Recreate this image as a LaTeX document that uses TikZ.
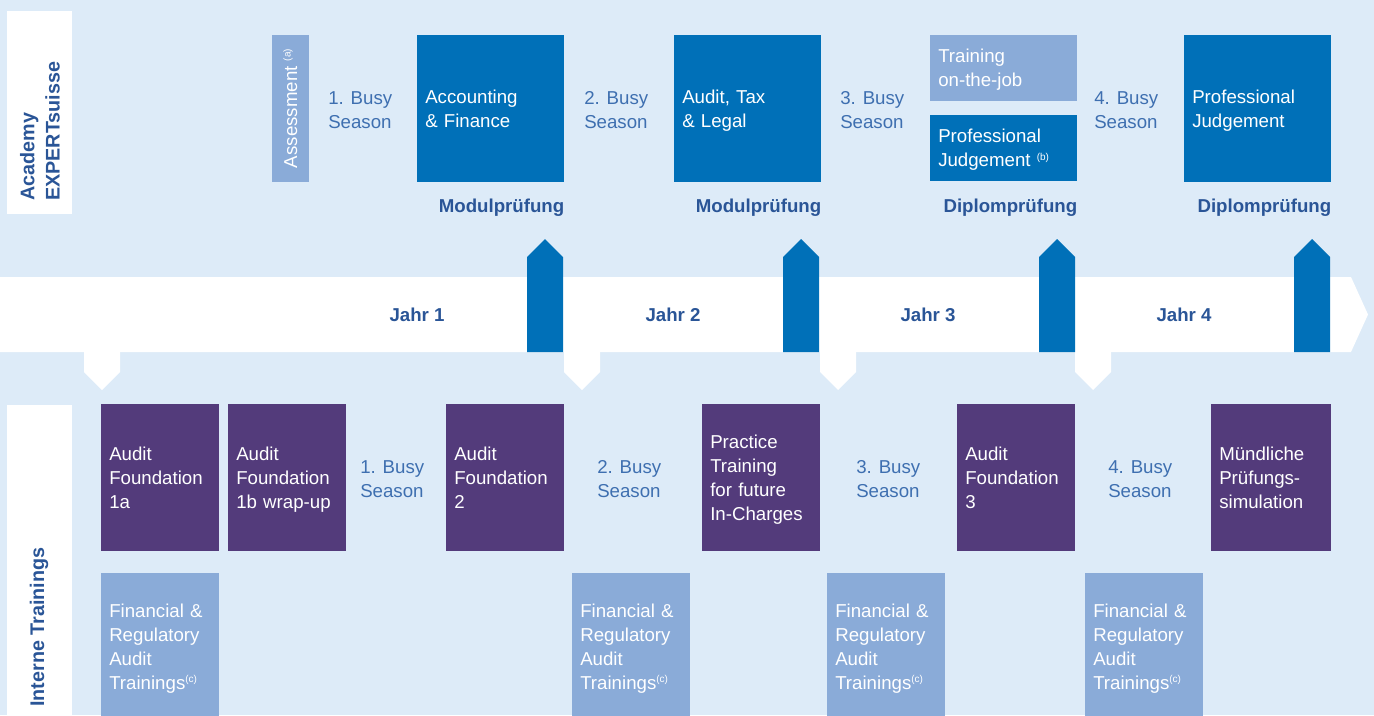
\documentclass[tikz,border=0pt]{standalone}
\usepackage{fontspec}
\setmainfont{Liberation Sans}
\usepackage{xcolor}
\usepackage{tikz}
\usetikzlibrary{positioning}

\definecolor{bgblue}{HTML}{DDEBF8}
\definecolor{akblue}{HTML}{0070B8}
\definecolor{lightbox}{HTML}{8AABD8}
\definecolor{itpurple}{HTML}{533B7B}
\definecolor{labelblue}{HTML}{2A5597}
\definecolor{seasonblue}{HTML}{3E6FB0}

\newcommand{\refmark}[1]{\raisebox{5pt}{\fontsize{7.5}{8}\selectfont(#1)}}

\begin{document}
\begin{tikzpicture}[
    x=0.75pt, y=-0.75pt,
    txt/.style={font=\fontsize{14}{18}\selectfont, align=left, inner sep=0pt,
        execute at begin node={\rule{0pt}{14pt}}, execute at end node={\rule[-4pt]{0pt}{4pt}}},
    box/.style={txt, anchor=north west, inner xsep=6pt, text=white, minimum height=110.25pt},
    bigbox/.style={box, fill=akblue, text width=98.25pt, minimum width=110.25pt},
    halfbox/.style={box, text width=98.25pt, minimum width=110.25pt, minimum height=49.5pt},
    ibox/.style={box, fill=itpurple, text width=76.5pt, minimum width=88.5pt},
    fbox/.style={box, fill=lightbox, text width=76.5pt, minimum width=88.5pt},
    season/.style={txt, anchor=west, text=seasonblue},
    exam/.style={font=\fontsize{14}{18}\selectfont\bfseries, text=labelblue, anchor=base east, inner sep=0pt},
    year/.style={font=\fontsize{14}{18}\selectfont\bfseries, text=labelblue, inner sep=0pt},
    side/.style={font=\fontsize{14.8}{19}\selectfont\bfseries, text=labelblue, rotate=90, anchor=west, align=left, inner sep=0pt}
]
\useasboundingbox (0,0) rectangle (1374,715);
\clip (0,0) rectangle (1374,715);
\fill[bgblue] (0,0) rectangle (1374,715);

% side labels
\fill[white] (7,11) rectangle (72,214);
\fill[white] (7,405) rectangle (72,730);
\node[side] (academy) at (40,201) {Academy\\EXPERTsuisse};
\node[side] (interne) at (39,707) {Interne Trainings};

% time line
\fill[white] (0,277) -- (1351,277) -- (1368,314.5) -- (1351,352) -- (0,352) -- cycle;
\fill[white] (84,350) -- (84,372) -- (102,390) -- (120,372) -- (120,350) -- cycle;
\fill[white] (564,350) -- (564,372) -- (582,390) -- (600,372) -- (600,350) -- cycle;
\fill[white] (820,350) -- (820,372) -- (838,390) -- (856,372) -- (856,350) -- cycle;
\fill[white] (1075,350) -- (1075,372) -- (1093,390) -- (1111,372) -- (1111,350) -- cycle;
\fill[akblue] (527,352) -- (527,257) -- (545,239) -- (563,257) -- (563,352) -- cycle;
\fill[akblue] (783,352) -- (783,257) -- (801,239) -- (819,257) -- (819,352) -- cycle;
\fill[akblue] (1039,352) -- (1039,257) -- (1057,239) -- (1075,257) -- (1075,352) -- cycle;
\fill[akblue] (1294,352) -- (1294,257) -- (1312,239) -- (1330,257) -- (1330,352) -- cycle;
\node[year] (jahr1) at (417,315) {Jahr 1};
\node[year] (jahr2) at (673,315) {Jahr 2};
\node[year] (jahr3) at (928,315) {Jahr 3};
\node[year] (jahr4) at (1184,315) {Jahr 4};

% Academy EXPERTsuisse
\node[txt, rotate=90, fill=lightbox, text=white, minimum width=110.25pt, minimum height=27.75pt] (assess) at (290.5,108.5) {Assessment \refmark{a}};
\node[season] (busy1) at (328,113) {1. Busy\\Season};
\node[bigbox] (accfin) at (417,35) {Accounting\\\& Finance};
\node[season] (busy2) at (584,113) {2. Busy\\Season};
\node[bigbox] (audtax) at (674,35) {Audit, Tax\\\& Legal};
\node[season] (busy3) at (840,113) {3. Busy\\Season};
\node[halfbox, fill=lightbox] (otj) at (930,35) {Training\\on-the-job};
\node[halfbox, fill=akblue] (profjb) at (930,115) {Professional\\Judgement \refmark{b}};
\node[season] (busy4) at (1094,113) {4. Busy\\Season};
\node[bigbox] (profj) at (1184,35) {Professional\\Judgement};

\node[exam] (mod1) at ([yshift=-22.5pt]accfin.south east) {Modulprüfung};
\node[exam] (mod2) at ([yshift=-22.5pt]audtax.south east) {Modulprüfung};
\node[exam] (dip1) at ([yshift=-23.25pt]profjb.south east) {Diplomprüfung};
\node[exam] (dip2) at ([yshift=-22.5pt]profj.south east) {Diplomprüfung};

% Interne Trainings
\node[ibox] (af1a) at (101,404) {Audit\\Foundation\\1a};
\node[ibox] (af1b) at (228,404) {Audit\\Foundation\\1b wrap-up};
\node[season] (ibusy1) at (360,482) {1. Busy\\Season};
\node[ibox] (af2) at (446,404) {Audit\\Foundation\\2};
\node[season] (ibusy2) at (597,482) {2. Busy\\Season};
\node[ibox] (practice) at (702,404) {Practice\\Training\\for future\\In-Charges};
\node[season] (ibusy3) at (856,482) {3. Busy\\Season};
\node[ibox] (af3) at (957,404) {Audit\\Foundation\\3};
\node[season] (ibusy4) at (1108,482) {4. Busy\\Season};
\node[ibox, text width=78pt, minimum width=90pt] (oral) at (1211,404) {Mündliche\\Prüfungs-\\simulation};

\node[fbox] (fra1) at (101,573) {Financial \&\\Regulatory\\Audit\\Trainings\refmark{c}};
\node[fbox] (fra2) at (572,573) {Financial \&\\Regulatory\\Audit\\Trainings\refmark{c}};
\node[fbox] (fra3) at (827,573) {Financial \&\\Regulatory\\Audit\\Trainings\refmark{c}};
\node[fbox] (fra4) at (1085,573) {Financial \&\\Regulatory\\Audit\\Trainings\refmark{c}};
\end{tikzpicture}
\end{document}
